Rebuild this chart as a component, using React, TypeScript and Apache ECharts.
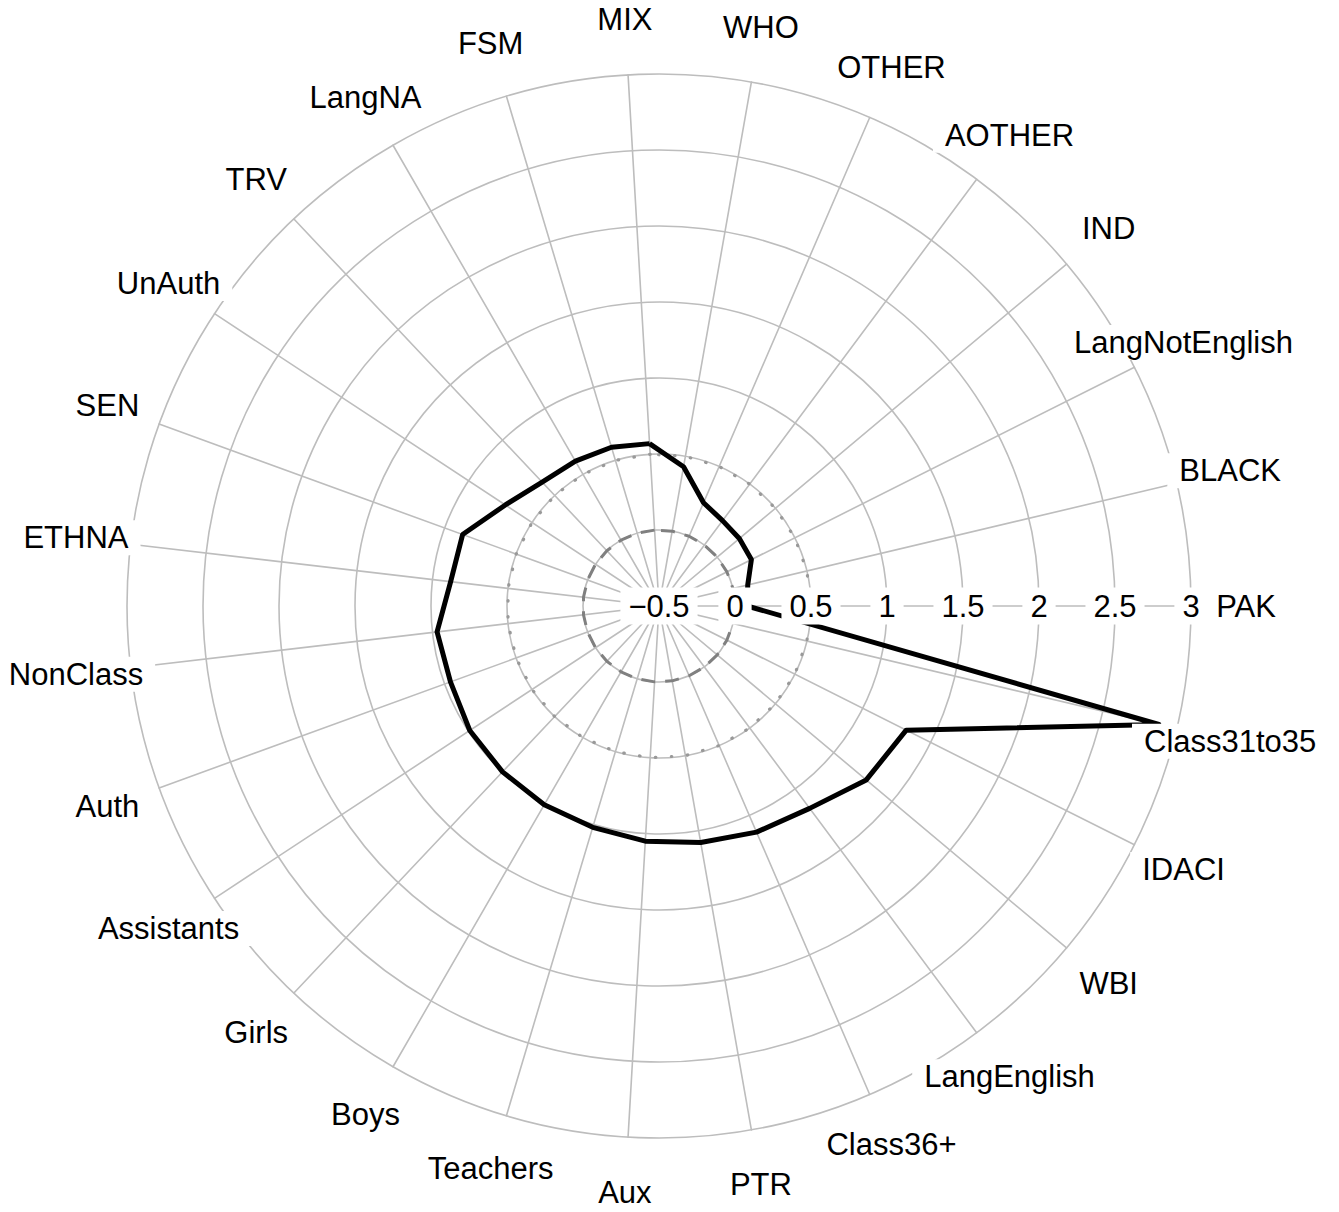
import React, { useEffect, useRef } from 'react';
import * as echarts from 'echarts';

// Categories in clockwise order, starting at the top
const categories: string[] = [
  'MIX', 'WHO', 'OTHER', 'AOTHER', 'IND', 'LangNotEnglish', 'BLACK', 'PAK',
  'Class31to35', 'IDACI', 'WBI', 'LangEnglish', 'Class36+', 'PTR', 'Aux',
  'Teachers', 'Boys', 'Girls', 'Assistants', 'Auth', 'NonClass', 'ETHNA',
  'SEN', 'UnAuth', 'TRV', 'LangNA', 'FSM',
];

const values: number[] = [
  0.57, 0.43, 0.24, 0.20, 0.19, 0.18, 0.10, 0.08,
  2.88, 1.32, 1.28, 1.16, 1.12, 1.08, 1.05,
  1.02, 1.01, 1.00, 0.99, 0.96, 0.97, 0.88,
  0.875, 0.71, 0.62, 0.60, 0.59,
];

const tickLabels: number[] = [-0.5, 0, 0.5, 1, 1.5, 2, 2.5, 3];
const axisMin = -0.5;
const axisMax = 3;
const zeroRef = 0;
const halfRef = 0.5;
const labelAxisName = 'PAK';

const FONT = "'Liberation Sans', Arial, Helvetica, sans-serif";

export default function App() {
  const ref = useRef<HTMLDivElement>(null);

  useEffect(() => {
    document.body.style.margin = '0';
    if (!ref.current) return;
    const chart = echarts.init(ref.current, undefined, { renderer: 'svg' });

    const n = categories.length;
    // ECharts radar runs counter-clockwise: keep first, reverse the rest
    const order = [0, ...categories.map((_, i) => i).slice(1).reverse()];
    const labelIdx = categories.indexOf(labelAxisName);
    const startAngle = 360 - (order.indexOf(labelIdx) * 360) / n;
    const splitNumber = tickLabels.length - 1;
    const nameValue = axisMax + (axisMax - axisMin) * (55 / 532);

    const gridIndicators = order.map((i) => ({ name: categories[i], min: axisMin, max: axisMax }));
    const labelIndicators = order.map((i) =>
      categories[i] === labelAxisName
        ? {
            name: categories[i],
            min: axisMin,
            max: axisMax,
            axisLabel: {
              show: true,
              margin: 0,
              align: 'center',
              verticalAlign: 'middle',
              fontSize: 31,
              fontFamily: FONT,
              color: '#000',
              backgroundColor: '#fff',
              padding: [3, 8, 3, 8],
              showMinLabel: true,
              showMaxLabel: true,
              formatter: (v: number) => String(v).replace('-', '\u2212'),
            },
          }
        : { name: categories[i], min: axisMin, max: axisMax }
    );

    const common = {
      center: [659, 606],
      radius: 532,
      startAngle,
      splitNumber,
      shape: 'circle',
      axisName: { show: false },
      axisTick: { show: false },
    };

    chart.setOption({
      animation: false,
      backgroundColor: '#ffffff',
      radar: [
        {
          ...common,
          z: 0,
          indicator: gridIndicators,
          splitArea: { show: false },
          splitLine: { lineStyle: { color: '#bdbdbd', width: 1.6 } },
          axisLine: { lineStyle: { color: '#bdbdbd', width: 1.6 } },
          axisLabel: { show: false },
        },
        {
          ...common,
          z: 10,
          indicator: labelIndicators,
          splitArea: { show: false },
          splitLine: { show: false },
          axisLine: { show: false },
          axisLabel: { show: false },
        },
      ],
      series: [
        {
          type: 'radar',
          radarIndex: 0,
          z: 2,
          silent: true,
          symbol: 'none',
          lineStyle: { color: '#808080', width: 3, type: [14, 10] },
          data: [{ value: order.map(() => zeroRef) }],
        },
        {
          type: 'radar',
          radarIndex: 0,
          z: 2,
          silent: true,
          symbol: 'none',
          lineStyle: { color: '#999999', width: 3.2, type: [0.5, 15.5], cap: 'round' },
          data: [{ value: order.map(() => halfRef) }],
        },
        {
          type: 'radar',
          radarIndex: 0,
          z: 3,
          silent: true,
          symbol: 'none',
          lineStyle: { color: '#000', width: 5, join: 'round' },
          data: [{ value: order.map((i) => values[i]) }],
        },
        {
          type: 'radar',
          radarIndex: 0,
          z: 5,
          silent: true,
          symbol: 'circle',
          symbolSize: 1,
          itemStyle: { color: 'rgba(0,0,0,0)' },
          lineStyle: { width: 0, opacity: 0 },
          label: {
            show: true,
            position: 'inside',
            fontSize: 31,
            fontFamily: FONT,
            color: '#000',
            backgroundColor: '#fff',
            padding: [2, 12, 2, 12],
            formatter: (p: any) =>
              p.dimensionIndex == null ? '' : categories[order[p.dimensionIndex]],
          },
          data: [{ value: order.map(() => nameValue) }],
        },
      ],
    });

    return () => chart.dispose();
  }, []);

  return <div ref={ref} style={{ width: 1339, height: 1212 }} />;
}
